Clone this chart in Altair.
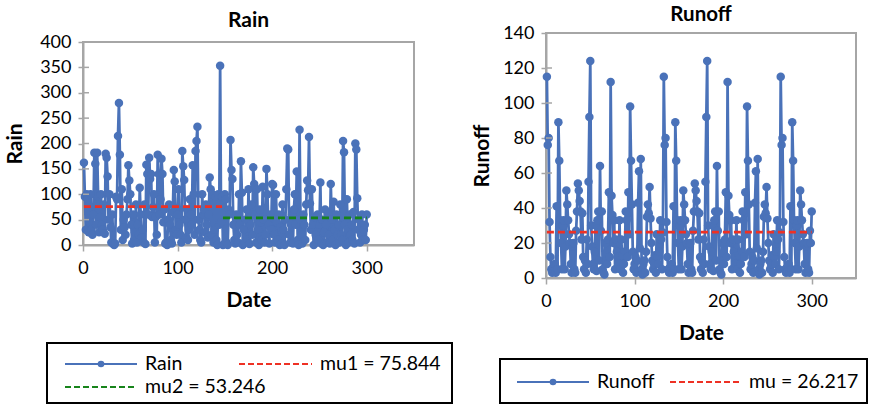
import altair as alt
import pandas as pd

# ---------------- data ----------------
days = list(range(1, 301))

rain = [
    162, 95, 30, 100, 90, 25, 45, 100, 30, 20,
    60, 182, 160, 40, 182, 95, 25, 55, 100, 40,
    30, 80, 22, 180, 172, 135, 50, 100, 35, 5,
    60, 2, 0, 3, 95, 90, 215, 280, 178, 30,
    110, 10, 50, 35, 20, 60, 90, 157, 127, 100,
    40, 3, 60, 10, 25, 80, 5, 40, 20, 113,
    60, 15, 30, 5, 80, 2, 158, 140, 60, 172,
    130, 140, 55, 75, 100, 5, 55, 20, 178, 140,
    60, 90, 170, 140, 45, 70, 3, 5, 0, 50,
    80, 40, 10, 3, 65, 148, 125, 30, 20, 60,
    110, 40, 20, 5, 185, 155, 128, 50, 15, 70,
    10, 30, 90, 60, 40, 157, 100, 20, 185, 205,
    233, 50, 30, 10, 5, 100, 60, 70, 25, 80,
    40, 15, 60, 133, 110, 20, 100, 5, 30, 95,
    10, 0, 100, 40, 353, 45, 95, 0, 2, 100,
    90, 5, 0, 70, 60, 207, 148, 130, 40, 10,
    3, 60, 20, 5, 100, 40, 165, 103, 0, 30,
    5, 50, 70, 10, 110, 2, 40, 80, 20, 153,
    120, 60, 5, 110, 30, 0, 70, 45, 10, 115,
    50, 5, 20, 150, 100, 40, 3, 60, 30, 120,
    118, 20, 5, 100, 45, 10, 60, 0, 35, 2,
    80, 30, 0, 50, 110, 190, 188, 20, 5, 40,
    60, 3, 70, 100, 40, 145, 10, 0, 227, 50,
    20, 3, 60, 40, 10, 80, 127, 108, 213, 82,
    30, 110, 40, 0, 55, 20, 5, 60, 10, 40,
    123, 3, 50, 0, 25, 70, 40, 5, 60, 20,
    3, 120, 50, 10, 85, 30, 0, 60, 20, 40,
    5, 80, 20, 10, 205, 183, 40, 0, 90, 30,
    5, 60, 20, 40, 10, 65, 3, 200, 188, 92,
    30, 50, 5, 20, 60, 10, 30, 40, 10, 60,
]

runoff_days_1_132 = [
    115, 76, 80, 32, 12, 5, 3, 6, 4, 8,
    3, 41, 5, 89, 67, 33, 20, 5, 30, 33,
    5, 18, 50, 42, 33, 25, 20, 8, 3, 18,
    20, 5, 3, 27, 38, 54, 50, 44, 38, 22,
    37, 12, 5, 10, 3, 22, 8, 55, 92, 124,
    30, 18, 8, 5, 15, 30, 4, 33, 38, 10,
    64, 27, 38, 5, 3, 2, 20, 10, 8, 22,
    49, 12, 112, 47, 36, 20, 33, 5, 22, 15,
    12, 8, 33, 5, 22, 13, 3, 8, 15, 38,
    33, 12, 49, 25, 98, 67, 42, 15, 5, 8,
    12, 3, 10, 43, 61, 17, 68, 5, 2, 8,
    10, 3, 15, 35, 42, 37, 52, 34, 20, 10,
    5, 8, 13, 3, 25, 12, 8, 15, 33, 22,
    5, 26,
]
runoff_days_133_264 = [
    115, 76, 80, 32, 12, 5, 3, 6, 4, 8,
    3, 41, 5, 89, 67, 33, 20, 5, 30, 33,
    5, 18, 50, 42, 33, 25, 20, 8, 3, 18,
    20, 5, 3, 27, 38, 54, 50, 44, 38, 22,
    37, 12, 5, 10, 3, 22, 8, 55, 92, 124,
    30, 18, 8, 5, 15, 30, 4, 33, 38, 10,
    64, 27, 38, 5, 3, 2, 20, 10, 8, 22,
    49, 12, 112, 47, 36, 20, 33, 5, 22, 15,
    12, 8, 33, 5, 22, 13, 3, 8, 15, 38,
    33, 12, 49, 25, 98, 67, 42, 15, 5, 8,
    12, 3, 10, 43, 61, 17, 68, 5, 2, 8,
    10, 3, 15, 35, 42, 37, 52, 34, 20, 10,
    5, 8, 13, 3, 25, 12, 8, 15, 33, 22,
    5, 26,
]
runoff_days_265_300 = [
    115, 76, 80, 32, 12, 5, 3, 6, 4, 8,
    3, 41, 5, 89, 67, 33, 20, 5, 30, 33,
    5, 18, 50, 42, 33, 25, 20, 8, 3, 18,
    20, 5, 3, 27, 20, 38,
]
runoff = runoff_days_1_132 + runoff_days_133_264 + runoff_days_265_300

mu1, mu2, mu = 75.844, 53.246, 26.217
rain_seg_start = [1, 148]
rain_seg_end = [147, 300]
rain_seg_value = [mu1, mu2]

rain_ticks = [0, 50, 100, 150, 200, 250, 300, 350, 400]
runoff_ticks = [0, 20, 40, 60, 80, 100, 120, 140]
date_ticks = [0, 100, 200, 300]

# ---------------- style ----------------
BLUE = "#4a72b9"
RED = "#ee3124"
GREEN = "#17841b"
GREY = "#a6a6a6"
FONT = "Lato"

W1, H1, OFF1 = 331, 203, 9
W2, H2, OFF2 = 310, 245, 0

one = pd.DataFrame({"k": [0]})


def x_axis(width, off, height):
    return alt.Axis(values=date_ticks, title="Date", titleX=width / 2, titleY=55,
                    titleAlign="center", titleBaseline="middle", titleFontSize=21,
                    titleFontWeight="bold", titleFont=FONT, titleColor="black",
                    labelFontSize=18, labelFont=FONT, labelColor="black", labelPadding=8,
                    tickSize=6, tickColor=GREY, tickWidth=1.5, domainColor=GREY,
                    domainWidth=2, grid=False, labelFlush=False, labelOverlap=False)


def y_axis(title, values, height, off, tx):
    return alt.Axis(values=values, title=title, titleX=tx, titleY=off + height / 2,
                    titleAngle=270, titleAlign="center", titleBaseline="middle",
                    titleFontSize=21, titleFontWeight="bold", titleFont=FONT,
                    titleColor="black", labelFontSize=18, labelFont=FONT,
                    labelColor="black", labelPadding=7, tickSize=5, tickColor=GREY,
                    tickWidth=1.5, domainColor=GREY, domainWidth=2, grid=False,
                    labelOverlap=False)


def panel(df, field, ydomain, yticks, width, height, off, title, title_y, title_size, ytx,
          mean_df, legend_spec, box, anchor):
    xax = x_axis(width, off, height)
    yax = y_axis(title, yticks, height, off, ytx)
    xsc = alt.Scale(domain=[0, 350], nice=False)
    ysc = alt.Scale(domain=ydomain, nice=False, range=[height + off, off])
    base = alt.Chart(df)
    border = alt.Chart(one).mark_rect(fillOpacity=0, stroke=GREY, strokeWidth=2).encode(
        x=alt.value(0), x2=alt.value(width), y=alt.value(off), y2=alt.value(off + height))
    line = base.mark_line(color=BLUE, strokeWidth=2.75).encode(
        x=alt.X("Date:Q", scale=xsc, axis=xax),
        y=alt.Y(f"{field}:Q", scale=ysc, axis=yax))
    pts = base.mark_circle(color=BLUE, size=72, opacity=1).encode(
        x=alt.X("Date:Q", scale=xsc, axis=xax),
        y=alt.Y(f"{field}:Q", scale=ysc, axis=yax))
    inner_ticks = alt.Chart(pd.DataFrame({"t": yticks})).mark_rule(
        color=GREY, strokeWidth=1.5).encode(
        x=alt.value(0), x2=alt.value(6),
        y=alt.Y("t:Q", scale=ysc, axis=yax))
    layers = [border, line, pts, inner_ticks]
    for seg_df, col in mean_df:
        layers.append(alt.Chart(seg_df).mark_rule(
            color=col, strokeWidth=2.75, strokeDash=[7, 4]).encode(
            x=alt.X("start:Q", scale=xsc, axis=xax), x2="end:Q",
            y=alt.Y("value:Q", scale=ysc, axis=yax)))
    ttl = alt.Chart(one).mark_text(text=title, font=FONT, fontSize=title_size,
                                   fontWeight="bold", color="black", align="center",
                                   baseline="middle").encode(
        x=alt.value(width / 2), y=alt.value(off + title_y))
    layers.append(ttl)
    bx0, bx1, by0, by1 = box
    layers.append(alt.Chart(one).mark_rect(fillOpacity=0, stroke="black", strokeWidth=2).encode(
        x=alt.value(bx0), x2=alt.value(bx1), y=alt.value(off + by0), y2=alt.value(off + by1)))
    for item in legend_spec:
        kind, x0, x1, yy, label, col = item
        if kind == "marker":
            layers.append(alt.Chart(one).mark_rule(color=col, strokeWidth=2.2).encode(
                x=alt.value(x0), x2=alt.value(x1), y=alt.value(off + yy)))
            layers.append(alt.Chart(one).mark_circle(color=col, size=44, opacity=1).encode(
                x=alt.value((x0 + x1) / 2), y=alt.value(off + yy)))
        else:
            layers.append(alt.Chart(one).mark_rule(color=col, strokeWidth=2.2,
                                                   strokeDash=[6, 3]).encode(
                x=alt.value(x0), x2=alt.value(x1), y=alt.value(off + yy)))
        layers.append(alt.Chart(one).mark_text(text=label, font=FONT, fontSize=19.5,
                                               color="black", align="left",
                                               baseline="middle").encode(
            x=alt.value(x1 + 8), y=alt.value(off + yy)))
    ax, ay = anchor
    layers.append(alt.Chart(one).mark_rule(opacity=0, strokeWidth=0.5).encode(
        x=alt.value(ax), x2=alt.value(ax + 1), y=alt.value(ay)))
    return alt.layer(*layers).properties(width=width, height=height + off)


rain_df = pd.DataFrame({"Date": days, "Rain": rain})
runoff_df = pd.DataFrame({"Date": days, "Runoff": runoff})
rain_mu_df = pd.DataFrame({"start": rain_seg_start, "end": rain_seg_end, "value": rain_seg_value})
runoff_mu_df = pd.DataFrame({"start": [1], "end": [300], "value": [mu]})

left = panel(
    rain_df, "Rain", [0, 400], rain_ticks, W1, H1, OFF1, "Rain", -21, 21, -68,
    [(rain_mu_df.iloc[[0]], RED), (rain_mu_df.iloc[[1]], GREEN)],
    [("marker", -18, 54, 322, "Rain", BLUE),
     ("dash", 156, 229, 322, "mu1 = 75.844", RED),
     ("dash", -18, 54, 345, "mu2 = 53.246", GREEN)],
    (-36, 369, 301, 361), (-83, -33))

right = panel(
    runoff_df, "Runoff", [0, 140], runoff_ticks, W2, H2, OFF2, "Runoff", -18, 20.5, -64,
    [(runoff_mu_df, RED)],
    [("marker", -29, 43, 349, "Runoff", BLUE),
     ("dash", 124, 195, 349, "mu = 26.217", RED)],
    (-46, 321, 326, 370), (-80, -33))

chart = alt.hconcat(left, right, spacing=13).properties(
    padding=0, background="white"
).configure_view(stroke=None)

chart.save("out.html", embed_options={"renderer": "svg", "actions": False})
